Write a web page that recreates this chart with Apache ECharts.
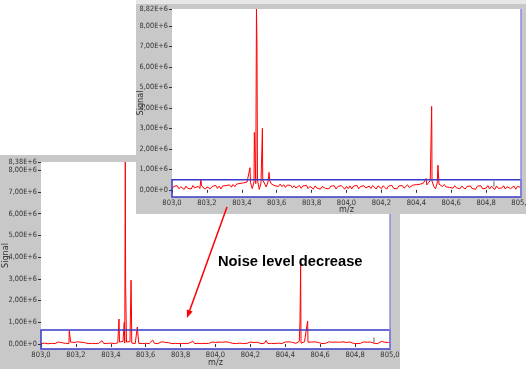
<!DOCTYPE html>
<html>
<head>
<meta charset="utf-8">
<script src="https://cdn.jsdelivr.net/npm/echarts@6/dist/echarts.min.js"></script>
<style>html,body{margin:0;padding:0;background:#fff}#chart{width:526px;height:369px}</style>
</head>
<body>
<div id="chart"></div>
<script>
// m/z grid of the noise traces (one value every 0.01)
var mzStart = 803.0;
var mzStep = 0.01;

// upper spectrum: noisy baseline (x1E6)
var topNoise = [
  0.04,0.17,0.08,0.20,0.05,0.15,0.10,0.02,0.18,0.07,
  0.16,0.04,0.21,0.09,0.03,0.17,0.06,0.19,0.11,0.03,
  0.14,0.20,0.05,0.16,0.08,0.22,0.07,0.18,0.04,0.19,
  0.10,0.21,0.12,0.24,0.13,0.26,0.15,0.28,0.19,0.31,
  0.22,0.34,0.31,0.38,0.45,0.35,0.06,0.38,0.30,0.48,
  0.02,0.32,0.48,0.40,0.14,0.38,0.45,0.28,0.32,0.20,
  0.27,0.16,0.28,0.15,0.25,0.12,0.23,0.14,0.22,0.10,
  0.20,0.09,0.18,0.21,0.07,0.19,0.11,0.22,0.06,0.17,
  0.15,0.04,0.19,0.09,0.18,0.03,0.16,0.21,0.07,0.15,
  0.05,0.18,0.10,0.20,0.04,0.16,0.08,0.21,0.12,0.03,
  0.17,0.06,0.19,0.04,0.18,0.10,0.22,0.05,0.16,0.08,
  0.20,0.09,0.03,0.18,0.07,0.21,0.12,0.04,0.19,0.10,
  0.06,0.20,0.13,0.03,0.18,0.09,0.22,0.07,0.16,0.05,
  0.19,0.10,0.21,0.08,0.17,0.24,0.11,0.20,0.23,0.14,
  0.25,0.16,0.27,0.22,0.32,0.30,0.24,0.34,0.45,0.42,
  0.18,0.05,0.34,0.28,0.24,0.16,0.26,0.14,0.21,0.12,
  0.19,0.08,0.20,0.10,0.17,0.05,0.18,0.12,0.04,0.16,
  0.09,0.19,0.06,0.15,0.03,0.18,0.10,0.20,0.05,0.14,
  0.08,0.21,0.04,0.17,0.11,0.02,0.19,0.07,0.16,0.09,
  0.20,0.04,0.15,0.22,0.06,0.13,0.18,0.03,0.17,0.08,
  0.12
];
var topPeakMz  = [803.165, 803.447, 803.472, 803.484, 803.487, 803.518, 803.556, 804.456, 804.488, 804.489, 804.524];
var topPeakVal = [0.50, 1.08, 2.80, 8.82, 7.10, 3.00, 0.85, 0.55, 4.07, 2.90, 1.20];
var topMarker  = [804.845, 0.15, 0.42];
var topTicks   = [0, 1, 2, 3, 4, 5, 6, 7, 8, 8.82];
var topBox     = [-0.35, 0.49];

// lower spectrum: reduced noise (x1E6)
var lowNoise = [
  0.02,0.09,0.04,0.08,0.01,0.10,0.03,0.06,0.02,0.08,
  0.09,0.02,0.06,0.12,0.03,0.07,0.02,0.09,0.01,0.07,
  0.04,0.10,0.02,0.08,0.03,0.06,0.11,0.02,0.08,0.03,
  0.07,0.02,0.09,0.03,0.08,0.15,0.02,0.07,0.03,0.09,
  0.04,0.08,0.02,0.10,0.05,0.09,0.02,0.12,0.04,0.09,
  0.03,0.11,0.04,0.09,0.02,0.08,0.03,0.10,0.02,0.08,
  0.03,0.07,0.02,0.09,0.18,0.03,0.08,0.02,0.07,0.10,
  0.02,0.08,0.03,0.06,0.10,0.02,0.09,0.03,0.07,0.02,
  0.08,0.03,0.10,0.02,0.07,0.04,0.09,0.13,0.02,0.07,
  0.03,0.09,0.02,0.10,0.03,0.08,0.02,0.07,0.09,0.03,
  0.07,0.02,0.09,0.04,0.08,0.02,0.10,0.03,0.07,0.14,
  0.03,0.08,0.02,0.09,0.04,0.07,0.02,0.10,0.03,0.08,
  0.09,0.02,0.07,0.03,0.08,0.10,0.02,0.07,0.03,0.16,
  0.02,0.08,0.03,0.09,0.02,0.10,0.04,0.08,0.02,0.07,
  0.09,0.03,0.10,0.04,0.08,0.11,0.03,0.09,0.12,0.04,
  0.03,0.10,0.04,0.08,0.02,0.09,0.03,0.10,0.02,0.07,
  0.09,0.02,0.08,0.03,0.07,0.10,0.02,0.08,0.03,0.09,
  0.02,0.08,0.03,0.10,0.04,0.07,0.02,0.09,0.17,0.03,
  0.08,0.02,0.09,0.03,0.07,0.10,0.02,0.08,0.03,0.09,
  0.10,0.03,0.07,0.02,0.09,0.12,0.03,0.08,0.02,0.07,
  0.09
];
var lowPeakMz  = [803.162, 803.447, 803.477, 803.483, 803.485, 803.516, 803.518, 803.552, 804.484, 804.488, 804.528];
var lowPeakVal = [0.61, 1.15, 1.00, 8.38, 2.70, 2.94, 1.88, 0.78, 0.97, 3.63, 1.06];
var lowMarker  = [804.908, 0.05, 0.30];
var lowTicks   = [0, 1, 2, 3, 4, 5, 6, 7, 8, 8.38];
var lowBox     = [-0.23, 0.64];

var labelFont = "'Liberation Sans Narrow', 'DejaVu Sans Condensed', sans-serif";

function buildTrace(noise, peakMz, peakVal) {
  var pts = noise.map(function (v, i) { return [mzStart + i * mzStep, v]; });
  peakMz.forEach(function (mz, i) { pts.push([mz, peakVal[i]]); });
  pts.sort(function (a, b) { return a[0] - b[0]; });
  return pts;
}

function yLabel(v) {
  return v.toFixed(2).replace('.', ',') + (v === 0 ? 'E+0' : 'E+6');
}

function makeAxes(gi, ticks, box, gap, nameGap, z) {
  var xAxis = {
    type: 'value', gridIndex: gi, min: 803, max: 805, interval: 0.2, z: z,
    name: 'm/z', nameLocation: 'middle', nameGap: nameGap, nameMoveOverlap: false,
    nameTextStyle: { fontFamily: labelFont, fontSize: 9, color: '#333' },
    axisLine: { show: false },
    axisTick: { show: true, length: 3, lineStyle: { color: '#333' } },
    axisLabel: { fontFamily: labelFont, fontSize: 7.5, color: '#333', margin: 2,
      formatter: function (v) { return v.toFixed(1).replace('.', ','); } },
    splitLine: { show: false }
  };
  var yAxis = {
    type: 'value', gridIndex: gi, min: box[0], max: ticks[ticks.length - 1], z: z,
    name: 'Signal', nameLocation: 'middle', nameGap: gap, nameMoveOverlap: false,
    nameTextStyle: { fontFamily: labelFont, fontSize: 9, color: '#333' },
    axisLine: { show: false },
    axisTick: { show: true, length: 3, customValues: ticks, lineStyle: { color: '#333' } },
    axisLabel: { fontFamily: labelFont, fontSize: 7.3, color: '#333', margin: 4,
      customValues: ticks, formatter: yLabel },
    splitLine: { show: false }
  };
  return [xAxis, yAxis];
}

function makeSeries(gi, trace, marker, box, z) {
  return [{
    type: 'line', xAxisIndex: gi, yAxisIndex: gi, z: z,
    data: trace, showSymbol: false, silent: true,
    lineStyle: { color: '#ff0000', width: 1 },
    markArea: {
      silent: true, z: z + 2,
      itemStyle: { color: 'rgba(0,0,0,0)', borderColor: '#3a3ac8', borderWidth: 1.5 },
      data: [[{ xAxis: 803, yAxis: box[0] }, { xAxis: 805, yAxis: box[1] }]]
    },
    markLine: {
      silent: true, z: z + 2, symbol: 'none', label: { show: false },
      lineStyle: { color: '#8c8ce0', width: 1.5, type: 'solid' },
      data: [{ xAxis: 805 }]
    }
  }, {
    type: 'line', xAxisIndex: gi, yAxisIndex: gi, z: z + 1,
    data: [[marker[0], marker[1]], [marker[0], marker[2]]],
    showSymbol: false, silent: true,
    lineStyle: { color: '#666', width: 1 }
  }];
}

var topTrace = buildTrace(topNoise, topPeakMz, topPeakVal);
var lowTrace = buildTrace(lowNoise, lowPeakMz, lowPeakVal);

var lowAxes = makeAxes(0, lowTicks, lowBox, 31, 9, 3);
var topAxes = makeAxes(1, topTicks, topBox, 27, 8, 13);

var chart = echarts.init(document.getElementById('chart'), null, { renderer: 'canvas' });
chart.setOption({
  animation: false,
  backgroundColor: '#fff',
  grid: [
    { left: 41, top: 162, width: 349, height: 187, show: true, backgroundColor: '#fff', borderWidth: 0, z: 2,
      containLabel: false, outerBoundsMode: 'none' },
    { left: 172, top: 9, width: 349, height: 188, show: true, backgroundColor: '#fff', borderWidth: 0, z: 12,
      containLabel: false, outerBoundsMode: 'none' }
  ],
  xAxis: [lowAxes[0], topAxes[0]],
  yAxis: [lowAxes[1], topAxes[1]],
  series: makeSeries(0, lowTrace, lowMarker, lowBox, 4).concat(makeSeries(1, topTrace, topMarker, topBox, 14)),
  graphic: [
    { type: 'rect', z: 1, silent: true, shape: { x: 0, y: 155, width: 400, height: 214 }, style: { fill: '#c8c8c8' } },
    { type: 'rect', z: 10, silent: true, shape: { x: 136, y: 0, width: 390, height: 4 }, style: { fill: '#e6e6e6' } },
    { type: 'rect', z: 10, silent: true, shape: { x: 136, y: 4, width: 390, height: 210 }, style: { fill: '#c8c8c8' } },
    { type: 'line', z: 30, silent: true, shape: { x1: 227, y1: 207, x2: 189.5, y2: 311 }, style: { stroke: '#ff0000', lineWidth: 1.5 } },
    { type: 'polygon', z: 30, silent: true, shape: { points: [[187, 318], [192.6, 311.4], [186.8, 309.4]] }, style: { fill: '#ff0000' } },
    { type: 'text', z: 30, silent: true, x: 218, y: 262,
      style: { text: 'Noise level decrease', fill: '#000', font: "bold 14.7px 'Liberation Sans', Arial, sans-serif", textVerticalAlign: 'middle' } }
  ]
});
</script>
</body>
</html>
